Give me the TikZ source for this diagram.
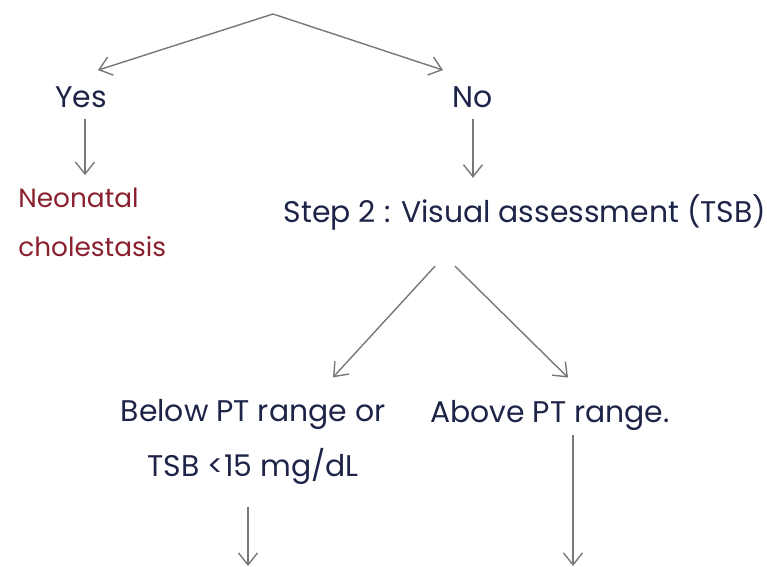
\documentclass[tikz,border=0pt]{standalone}
\usepackage{fontspec}
\setmainfont{Poppins}
\usetikzlibrary{arrows.meta, calc}
\definecolor{inkblue}{RGB}{30,36,72}
\definecolor{inkred}{RGB}{138,32,46}
\definecolor{inkgray}{RGB}{120,120,120}

\begin{document}
\begin{tikzpicture}[
    x=0.02cm, y=-0.02cm,
    lbl/.style={inner sep=0pt, text=inkblue, font=\fontsize{17}{31}\selectfont, align=center},
    outcome/.style={lbl, text=inkred, align=left, font=\fontsize{15}{28}\selectfont},
    arrow/.style={-{Straight Barb[length=2.4mm, width=3.8mm]}, draw=inkgray, line width=0.8pt}
]
\useasboundingbox (0,0) rectangle (767,566);
\coordinate (top) at (273,14);
\node[lbl] (yes) at (81,97) {Yes};
\node[lbl] (no) at (473,97) {No};
\node[outcome, anchor=west] (neo) at (18,222) {Neonatal\\cholestasis};
\node[lbl] (step) at (525,212) {Step 2 : Visual assessment (TSB)};
\node[lbl] (below) at (253,442) {Below PT range or\\TSB <15 mg/dL};
\node[lbl] (above) at (550,415) {Above PT range.};
\coordinate (belowend) at (248,566);
\coordinate (aboveend) at (573,566);
% first split
\draw[arrow] (top) -- ($(yes.north)+(17,-16)$);
\draw[arrow] (top) -- ($(no.north)+(-30,-16)$);
\draw[arrow] ($(yes.south)+(4,11)$) -- ($(yes.south |- neo.north)+(4,-12)$);
\draw[arrow] ($(no.south)+(0,11)$) -- ($(no.south |- step.north)+(0,-16)$);
% second split
\draw[arrow] ($(step.south)+(-90,36)$) -- ($(below.north)+(80,-22)$);
\draw[arrow] ($(step.south)+(-70,36)$) -- ($(above.north)+(18,-22)$);
\draw[arrow] ($(below.south)+(-5,22)$) -- (belowend);
\draw[arrow] ($(above.south)+(23,5)$) -- (aboveend);
\end{tikzpicture}
\end{document}
